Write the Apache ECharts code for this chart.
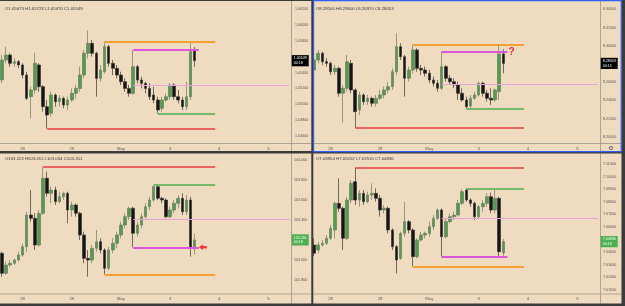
<!DOCTYPE html>
<html><head><meta charset="utf-8">
<script src="https://cdn.jsdelivr.net/npm/echarts/dist/echarts.min.js"></script>
<style>html,body{margin:0;padding:0;background:#efdcc0;}#c{width:625px;height:306px;}</style>
</head><body><div id="c"></div>
<script>
// ---------- time axis ----------
const categories = Array.from({length: 71}, (_, i) => 's' + i);
const dayLabels = ['28', '29', 'May', '3', '4', '5'];

// ---------- panel 1 (top-left) ----------
const tlOpen = [1.05305,1.05558,1.05621,1.05516,1.05537,1.05495,1.05368,1.05094,1.05178,1.05495,
 1.05220,1.04967,1.04883,1.05115,1.05031,1.05073,1.04988,1.05052,1.05136,1.05199,
 1.05368,1.05643,1.05769,1.05643,1.05326,1.05410,1.05727,1.05516,1.05453,1.05368,
 1.05284,1.05199,1.05136,1.05474,1.05305,1.05263,1.05199,1.05115,1.05052,1.04946,
 1.05052,1.05094,1.05241,1.05094,1.05052,1.04967,1.05094,1.05673];
const tlClose = [1.05558,1.05621,1.05516,1.05537,1.05495,1.05368,1.05073,1.05178,1.05516,1.05220,
 1.04967,1.04862,1.05115,1.05031,1.05073,1.04988,1.05052,1.05136,1.05199,1.05368,
 1.05643,1.05769,1.05643,1.05326,1.05431,1.05727,1.05516,1.05453,1.05368,1.05284,
 1.05199,1.05136,1.05474,1.05305,1.05263,1.05199,1.05094,1.05052,1.04925,1.05052,
 1.05094,1.05241,1.05094,1.05052,1.04967,1.05094,1.05665,1.05549];
const tlLow = [1.05263,1.05516,1.05474,1.05474,1.05453,1.05326,1.05052,1.04819,1.05136,1.05157,
 1.04904,1.04690,1.04841,1.04967,1.04967,1.04946,1.04925,1.05031,1.05073,1.05157,
 1.05326,1.05579,1.05600,1.05094,1.05284,1.05389,1.05474,1.05368,1.05326,1.05242,
 1.05157,1.05094,1.05115,1.05263,1.05199,1.05136,1.05052,1.05010,1.04883,1.04904,
 1.05031,1.05052,1.05052,1.05010,1.04925,1.04925,1.05052,1.05470];
const tlHigh = [1.05621,1.05727,1.05643,1.05579,1.05558,1.05516,1.05410,1.05220,1.05651,1.05516,
 1.05242,1.05052,1.05157,1.05136,1.05115,1.05094,1.05094,1.05199,1.05242,1.05474,
 1.05685,1.05930,1.05811,1.05664,1.05495,1.05790,1.05748,1.05558,1.05495,1.05410,
 1.05326,1.05242,1.05685,1.05495,1.05347,1.05284,1.05263,1.05220,1.05094,1.05094,
 1.05136,1.05263,1.05263,1.05178,1.05094,1.05284,1.05778,1.05723];
const tlTicks = [1.046,1.048,1.050,1.052,1.054,1.056,1.058,1.060,1.062];
// levels: orange, magenta, pink, green, red
const tlLevels = [1.05790, 1.05685, 1.05233, 1.04883, 1.04690];
const tlFrom = [25, 32, 32, 38, 11];
const tlTo = [52, 48, 70, 52, 52];

// ---------- panel 2 (top-right) ----------
const trOpen = [null,8.27334,8.28433,8.29165,8.28249,8.28066,8.27151,8.27517,8.24770,8.25319,
 8.28066,8.25136,8.22938,8.24586,8.23854,8.24220,8.23671,8.24220,8.24586,8.25136,
 8.25502,8.27151,8.29898,8.28799,8.26418,8.27334,8.29531,8.27517,8.27334,8.26967,
 8.26235,8.25868,8.25319,8.27700,8.26418,8.26052,8.25685,8.24770,8.24037,8.23378,
 8.24220,8.24586,8.25868,8.24770,8.24220,8.24037,8.24953,8.29100];
const trClose = [null,8.28433,8.29165,8.28249,8.28066,8.27151,8.27517,8.24770,8.25319,8.28249,
 8.25136,8.22755,8.24586,8.23854,8.24220,8.23671,8.24220,8.24586,8.25136,8.25502,
 8.27151,8.29898,8.28799,8.26418,8.27334,8.29531,8.27517,8.27334,8.26967,8.26235,
 8.25868,8.25319,8.27700,8.26418,8.26052,8.25685,8.24770,8.24037,8.23304,8.24220,
 8.24586,8.25868,8.24770,8.24220,8.24037,8.25136,8.29100,8.28053];
const trLow = [null,8.27151,8.28066,8.27883,8.27700,8.26784,8.26784,8.24403,8.21546,8.24953,
 8.24770,8.21000,8.22389,8.23488,8.23488,8.23304,8.23304,8.24037,8.24220,8.24770,
 8.25136,8.26784,8.28433,8.24403,8.26052,8.26967,8.27151,8.26784,8.26601,8.25868,
 8.25502,8.24953,8.25136,8.26052,8.25685,8.25319,8.24037,8.23854,8.23085,8.23121,
 8.24037,8.24403,8.24403,8.23854,8.23488,8.23854,8.24037,8.26970];
const trHigh = [null,8.28982,8.29531,8.29348,8.28616,8.28249,8.27883,8.27700,8.25685,8.28982,
 8.28433,8.25319,8.24953,8.24770,8.24586,8.24403,8.24586,8.25136,8.25502,8.26052,
 8.27517,8.31363,8.30264,8.28982,8.27700,8.30081,8.29715,8.27883,8.27700,8.27334,
 8.26601,8.26235,8.29312,8.27883,8.26784,8.26418,8.26052,8.25319,8.24403,8.24586,
 8.24953,8.26052,8.26052,8.25136,8.25319,8.25319,8.30081,8.29600];
const trTicks = [8.20,8.22,8.24,8.26,8.28,8.30,8.32,8.34];
const trLevels = [8.30081, 8.29312, 8.25759, 8.23085, 8.21000];
const trFrom = [25, 32, 32, 38, 11];
const trTo = [52, 48, 70, 52, 52];

// ---------- panel 3 (bottom-left) ----------
const blOpen = [103.067,102.867,102.950,102.967,103.000,103.050,103.133,103.450,103.417,103.150,
 103.467,103.817,103.667,103.700,103.583,103.633,103.667,103.500,103.550,103.467,
 103.250,103.017,103.000,103.117,103.183,103.100,102.917,103.100,103.167,103.250,
 103.350,103.433,103.517,103.267,103.350,103.433,103.533,103.600,103.733,103.617,
 103.600,103.433,103.500,103.567,103.617,103.483,103.600,103.113];
const blClose = [102.867,102.950,102.967,103.000,103.050,103.133,103.450,103.417,103.150,103.467,
 103.817,103.667,103.700,103.583,103.633,103.667,103.500,103.550,103.467,103.250,
 103.017,103.000,103.117,103.183,103.100,102.917,103.100,103.167,103.250,103.350,
 103.433,103.517,103.267,103.350,103.433,103.533,103.600,103.733,103.617,103.600,
 103.433,103.500,103.567,103.617,103.483,103.600,103.117,103.201];
const blLow = [102.833,102.850,102.933,102.950,102.983,103.033,103.083,103.383,103.100,103.133,
 103.450,103.633,103.567,103.550,103.567,103.600,103.367,103.433,103.433,103.200,
 102.967,102.833,102.967,103.083,103.067,102.857,102.900,103.067,103.117,103.217,
 103.317,103.400,103.127,103.233,103.317,103.417,103.500,103.583,103.600,103.567,
 103.417,103.417,103.467,103.517,103.450,103.450,103.033,103.054];
const blHigh = [103.083,102.983,103.000,103.017,103.083,103.167,103.483,103.700,103.467,103.500,
 103.933,103.883,103.733,103.733,103.683,103.683,103.683,103.583,103.567,103.483,
 103.283,103.100,103.150,103.300,103.217,103.117,103.133,103.217,103.283,103.383,
 103.467,103.533,103.533,103.383,103.467,103.567,103.633,103.750,103.750,103.633,
 103.617,103.533,103.600,103.650,103.667,103.650,103.633,103.261];
const blTicks = [102.8,103.0,103.2,103.4,103.6,103.8,104.0];
const blLevels = [102.857, 103.127, 103.407, 103.750, 103.933];
const blFrom = [25, 32, 32, 37, 10];
const blTo = [52, 48, 70, 52, 52];

// ---------- panel 4 (bottom-right) ----------
const brOpen = [null,7.04571,7.04174,7.04571,7.04704,7.05100,7.05762,7.07878,7.07481,7.05100,
 7.08143,7.09598,7.08143,7.08672,7.08010,7.08540,7.08672,7.08275,7.07349,7.07481,
 7.05762,7.04439,7.03513,7.05497,7.06423,7.05762,7.03645,7.04968,7.05365,7.05497,
 7.06026,7.06688,7.07349,7.05233,7.06423,7.06820,7.06952,7.07878,7.08936,7.08143,
 7.07878,7.06820,7.07614,7.07878,7.08407,7.07349,7.08275,7.03954];
const brClose = [null,7.03910,7.04571,7.04704,7.05100,7.05894,7.07878,7.07481,7.05100,7.08143,
 7.09465,7.08143,7.08672,7.08010,7.08540,7.08672,7.08275,7.07349,7.07481,7.05762,
 7.04439,7.03381,7.05497,7.06423,7.05762,7.03645,7.04968,7.05365,7.05497,7.06026,
 7.06688,7.07349,7.05233,7.06423,7.06820,7.06952,7.07878,7.08804,7.08143,7.07878,
 7.06820,7.07614,7.07878,7.08407,7.07349,7.08275,7.04042,7.04836];
const brLow = [null,7.03698,7.03910,7.04439,7.04571,7.04968,7.05100,7.07217,7.04174,7.04968,
 7.07878,7.07746,7.07614,7.07746,7.07878,7.08143,7.08010,7.06820,7.07085,7.05497,
 7.04174,7.02323,7.03381,7.05233,7.05497,7.02878,7.03513,7.04836,7.05100,7.05233,
 7.05762,7.06555,7.03646,7.05100,7.06291,7.06555,7.06820,7.07746,7.08010,7.07614,
 7.06555,7.06688,7.07217,7.07614,7.07085,7.07085,7.03645,7.03510];
const brHigh = [null,7.05100,7.04836,7.04968,7.05365,7.06159,7.08010,7.09862,7.07614,7.08407,
 7.09730,7.10709,7.08936,7.08936,7.08804,7.09465,7.09069,7.08540,7.07746,7.07614,
 7.05894,7.04571,7.05630,7.08010,7.06555,7.05894,7.05100,7.05630,7.05630,7.06423,
 7.06952,7.07481,7.07481,7.06688,7.07085,7.07217,7.08143,7.09000,7.09042,7.08275,
 7.08010,7.07746,7.08143,7.08672,7.08725,7.08936,7.08407,7.05052];
const brTicks = [7.01,7.02,7.03,7.04,7.05,7.06,7.07,7.08,7.09,7.10,7.11];
const brLevels = [7.02878, 7.03646, 7.06688, 7.09042, 7.10709];
const brFrom = [25, 32, 32, 38, 11];
const brTo = [52, 48, 70, 52, 52];

const countdowns = ['00:18', '00:15', '00:18', '00:18'];

// ---------- styles / layout ----------
const levelColors = ['#f5a030', '#dd55dd', '#e8a4d6', '#4caf50', '#e53e3e'];
const levelWidths = [2, 2, 1, 1.5, 1.5];
const FONT = 'Liberation Sans';

const panels = [
  {o: tlOpen, c: tlClose, l: tlLow, h: tlHigh, ticks: tlTicks, lv: tlLevels, from: tlFrom, to: tlTo, dec: 5,
   grid: {left: 0, top: 1, width: 291, height: 134.7}, max: 1.06305, xOff: 8, labMargin: 4, head: [5, 7], box: '#000'},
  {o: trOpen, c: trClose, l: trLow, h: trHigh, ticks: trTicks, lv: trLevels, from: trFrom, to: trTo, dec: 5,
   grid: {left: 308, top: 1, width: 292, height: 135.7}, max: 8.34912, xOff: 7, labMargin: 3, head: [316, 7], box: '#000'},
  {o: blOpen, c: blClose, l: blLow, h: blHigh, ticks: blTicks, lv: blLevels, from: blFrom, to: blTo, dec: 3,
   grid: {left: 0, top: 155, width: 291, height: 125}, max: 104.05, xOff: 14, labMargin: 3, head: [5, 157], box: '#4caf50'},
  {o: brOpen, c: brClose, l: brLow, h: brHigh, ticks: brTicks, lv: brLevels, from: brFrom, to: brTo, dec: 5,
   grid: {left: 308, top: 155, width: 292, height: 135}, max: 7.11714, xOff: 4, labMargin: 3, head: [316, 157], box: '#4caf50'}
];

const dayAt = {};
dayLabels.forEach((d, k) => { dayAt[5 + 12 * k] = d; });

const grids = [], xAxes = [], yAxes = [], series = [], titles = [];
panels.forEach((p, k) => {
  grids.push(Object.assign({outerBoundsMode: 'none', containLabel: false}, p.grid));
  xAxes.push({
    gridIndex: k, type: 'category', data: categories, boundaryGap: true, offset: p.xOff,
    axisLine: {show: false}, axisTick: {show: false}, splitLine: {show: false},
    axisLabel: {interval: 0, margin: 3, fontSize: 4.2, color: '#555', fontFamily: FONT,
      formatter: (v, i) => dayAt[i] || ''}
  });
  const step = +(p.ticks[1] - p.ticks[0]).toFixed(6);
  yAxes.push({
    gridIndex: k, type: 'value', position: 'right', scale: true,
    min: p.ticks[0], max: p.max, interval: step,
    axisLine: {show: false}, axisTick: {show: false}, splitLine: {show: false},
    axisLabel: {showMaxLabel: false, showMinLabel: true, margin: p.labMargin, fontSize: 3.7,
      color: '#555', fontFamily: FONT, formatter: v => v.toFixed(p.dec)}
  });
  const n = p.o.length;
  const last = n - 1;
  const lastSlot = categories.length - 1;
  const data = p.o.map((o, i) => o == null ? '-' : [o, p.c[i], p.l[i], p.h[i]]);
  const ml = p.lv.map((v, j) => [
    {coord: [p.from[j], v], lineStyle: {color: levelColors[j], width: levelWidths[j], type: 'solid'}},
    {coord: [p.to[j], v]}
  ]);
  const mp = [{
    coord: [lastSlot, p.c[last]], symbol: 'circle', symbolSize: 1, itemStyle: {color: 'rgba(0,0,0,0)'},
    label: {show: true, position: 'right', distance: 2.3, backgroundColor: p.box, color: '#fff',
      padding: [1, 2], fontSize: 3.6, lineHeight: 4.6, fontFamily: FONT,
      formatter: () => p.c[last].toFixed(p.dec) + '\n' + countdowns[k]}
  }];
  if (k === 1) {
    mp.push({
      coord: [49, 8.29308], symbol: 'circle', symbolSize: 1, itemStyle: {color: 'rgba(0,0,0,0)'},
      label: {show: true, position: 'inside', formatter: '?', color: '#e8333b', fontSize: 10, fontWeight: 'bold', fontFamily: FONT}
    });
  }
  if (k === 2) {
    mp.push({
      coord: [49, 103.127], symbol: 'path://M0,5L5,0L5,3L10,3L10,7L5,7L5,10Z', symbolSize: [8, 6],
      itemStyle: {color: '#f23a3a'}, label: {show: false}
    });
  }
  series.push({
    type: 'candlestick', xAxisIndex: k, yAxisIndex: k, data: data, barWidth: 3.1, clip: false,
    itemStyle: {color: '#4e9e4e', color0: '#141414', borderColor: '#6f7d62', borderColor0: '#3a3630', borderWidth: 0.7},
    markLine: {silent: true, symbol: ['none', 'none'], animation: false, label: {show: false}, data: ml},
    markPoint: {silent: true, animation: false, data: mp}
  });
  titles.push({
    text: 'O' + p.o[last].toFixed(p.dec) + ' H' + p.h[last].toFixed(p.dec) + ' L' + p.l[last].toFixed(p.dec) + ' C' + p.c[last].toFixed(p.dec),
    left: p.head[0], top: p.head[1], padding: 0,
    textStyle: {fontSize: 4.3, color: '#333', fontWeight: 'normal', fontFamily: FONT}
  });
});

// decorative frame (panel borders / separators)
const dark = '#3b3b3b', sep = '#9c9487';
const graphic = [
  {type: 'rect', shape: {x: 0, y: 0, width: 625, height: 1}, style: {fill: dark}, z: 100},
  {type: 'rect', shape: {x: 0, y: 151, width: 625, height: 2.5}, style: {fill: dark}, z: 100},
  {type: 'rect', shape: {x: 0, y: 303.5, width: 625, height: 3}, style: {fill: dark}, z: 100},
  {type: 'rect', shape: {x: 311.3, y: 0, width: 2, height: 306}, style: {fill: dark}, z: 100},
  {type: 'rect', shape: {x: 621.5, y: 0, width: 4, height: 306}, style: {fill: dark}, z: 100},
  {type: 'line', shape: {x1: 291.5, y1: 1, x2: 291.5, y2: 151}, style: {stroke: sep, lineWidth: 0.8}, z: 1},
  {type: 'line', shape: {x1: 600.5, y1: 1, x2: 600.5, y2: 151}, style: {stroke: sep, lineWidth: 0.8}, z: 1},
  {type: 'line', shape: {x1: 291.5, y1: 153.5, x2: 291.5, y2: 303.5}, style: {stroke: sep, lineWidth: 0.8}, z: 1},
  {type: 'line', shape: {x1: 600.5, y1: 153.5, x2: 600.5, y2: 303.5}, style: {stroke: sep, lineWidth: 0.8}, z: 1},
  {type: 'line', shape: {x1: 0, y1: 143.5, x2: 311, y2: 143.5}, style: {stroke: sep, lineWidth: 0.8}, z: 1},
  {type: 'line', shape: {x1: 313, y1: 143.5, x2: 621, y2: 143.5}, style: {stroke: sep, lineWidth: 0.8}, z: 1},
  {type: 'line', shape: {x1: 0, y1: 294, x2: 311, y2: 294}, style: {stroke: sep, lineWidth: 0.8}, z: 1},
  {type: 'line', shape: {x1: 313, y1: 294, x2: 621, y2: 294}, style: {stroke: sep, lineWidth: 0.8}, z: 1},
  {type: 'rect', shape: {x: 313.6, y: 0.6, width: 307.6, height: 151}, style: {fill: 'none', stroke: '#2d62f5', lineWidth: 1.2}, z: 110},
  {type: 'text', x: 611, y: 148, style: {text: '\u2699', fontSize: 6, fill: '#555', align: 'center', verticalAlign: 'middle', fontFamily: 'DejaVu Sans'}, z: 110}
];

const chart = echarts.init(document.getElementById('c'), null, {renderer: 'canvas'});
chart.setOption({
  animation: false,
  backgroundColor: '#efdcc0',
  textStyle: {fontFamily: FONT},
  title: titles,
  grid: grids,
  xAxis: xAxes,
  yAxis: yAxes,
  series: series,
  graphic: graphic
});
</script></body></html>
